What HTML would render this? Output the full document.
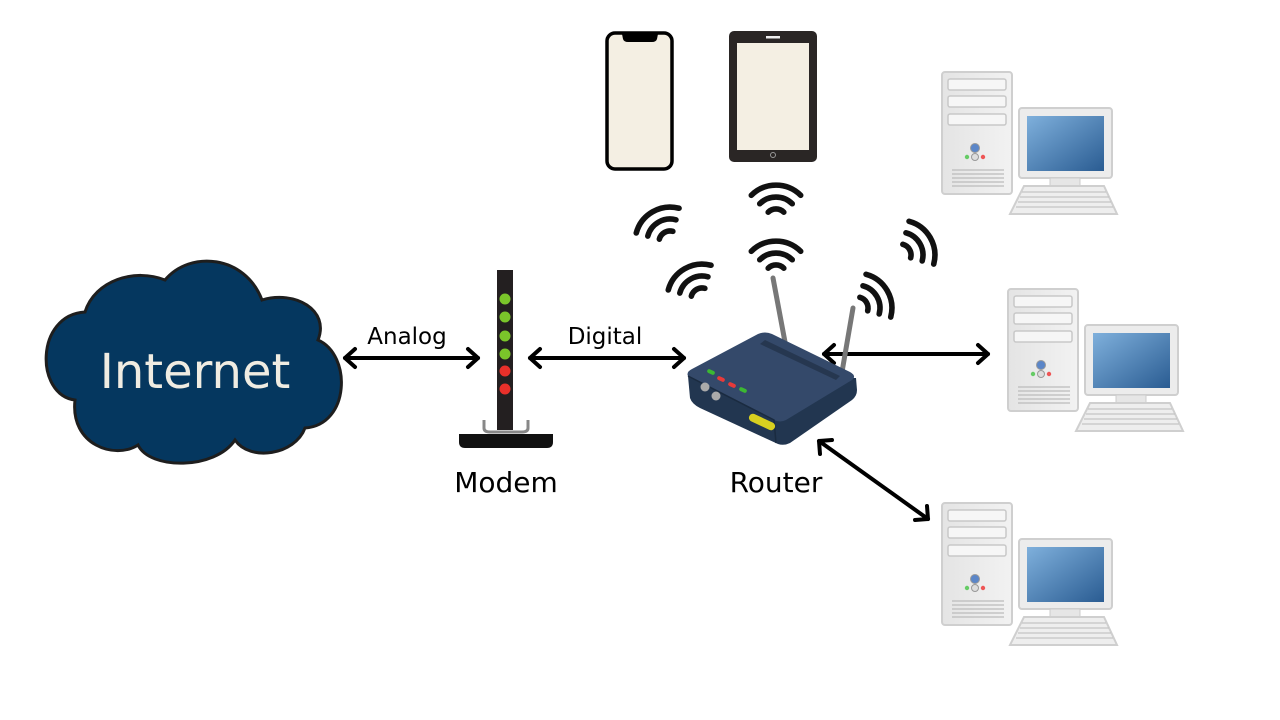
<!DOCTYPE html>
<html><head><meta charset="utf-8"><style>
html,body{margin:0;padding:0;background:#fff;width:1280px;height:720px;overflow:hidden}
text{font-family:"DejaVu Sans","Liberation Sans",sans-serif}
</style></head><body>
<svg width="1280" height="720" viewBox="0 0 1280 720" xmlns="http://www.w3.org/2000/svg">
<defs>
<linearGradient id="scr" x1="0" y1="0" x2="1" y2="1"><stop offset="0" stop-color="#7fb0dc"/><stop offset="1" stop-color="#2a5c92"/></linearGradient>
<linearGradient id="case" x1="0" y1="0" x2="1" y2="0"><stop offset="0" stop-color="#e4e4e4"/><stop offset="1" stop-color="#f2f2f2"/></linearGradient>
<g id="wifi" fill="none" stroke="#111" stroke-width="4.3" stroke-linecap="round">
<path d="M-19,-19 A27,27 0 0 1 19,-19"/>
<path d="M-12.5,-12.5 A17.7,17.7 0 0 1 12.5,-12.5"/>
<path d="M-6,-6 A8.5,8.5 0 0 1 6,-6"/>
</g>
<g id="pc">
<rect x="0" y="0" width="70" height="122" rx="3" fill="url(#case)" stroke="#cfcfcf" stroke-width="2"/>
<rect x="6" y="7" width="58" height="11" rx="2" fill="#f6f6f6" stroke="#c8c8c8" stroke-width="1.5"/>
<rect x="6" y="24" width="58" height="11" rx="2" fill="#f6f6f6" stroke="#c8c8c8" stroke-width="1.5"/>
<rect x="6" y="42" width="58" height="11" rx="2" fill="#f6f6f6" stroke="#c8c8c8" stroke-width="1.5"/>
<circle cx="33" cy="76" r="4.5" fill="#5b86c8" stroke="#999"/>
<circle cx="33" cy="85" r="3.5" fill="#ddd" stroke="#999"/>
<circle cx="25" cy="85" r="2.2" fill="#6c6"/>
<circle cx="41" cy="85" r="2.2" fill="#e55"/>
<g stroke="#bbb" stroke-width="1.2"><line x1="10" y1="98" x2="62" y2="98"/><line x1="10" y1="102" x2="62" y2="102"/><line x1="10" y1="106" x2="62" y2="106"/><line x1="10" y1="110" x2="62" y2="110"/><line x1="10" y1="114" x2="62" y2="114"/></g>
<rect x="77" y="36" width="93" height="70" rx="3" fill="#ececec" stroke="#cfcfcf" stroke-width="2"/>
<rect x="85" y="44" width="77" height="55" fill="url(#scr)"/>
<rect x="108" y="106" width="30" height="8" fill="#e6e6e6" stroke="#ccc"/>
<path d="M82,114 L162,114 L175,142 L68,142 Z" fill="#eeeeee" stroke="#cfcfcf" stroke-width="2"/>
<g stroke="#c4c4c4" stroke-width="1.2"><line x1="80" y1="120" x2="164" y2="120"/><line x1="78" y1="125" x2="167" y2="125"/><line x1="76" y1="130" x2="169" y2="130"/><line x1="74" y1="135" x2="171" y2="135"/></g>
</g>
</defs>

<!-- cloud -->
<path d="M75,400 C35,395 35,315 85,312 C95,280 135,268 165,280 C190,250 245,255 262,300 C295,290 330,310 318,340 C352,355 350,425 305,428 C295,455 250,462 235,440 C215,470 150,470 138,445 C115,460 70,445 75,400 Z" fill="#05375f" stroke="#1e1e1e" stroke-width="3"/>
<text x="195" y="388" font-size="48" fill="#f0ece2" text-anchor="middle">Internet</text>

<!-- arrows -->
<g stroke="#000" stroke-width="4" fill="none" stroke-linecap="round" stroke-linejoin="round">
<line x1="345" y1="358" x2="478" y2="358"/>
<polyline points="355,349 345,358 355,367"/><polyline points="468,349 478,358 468,367"/>
<line x1="530" y1="358" x2="684" y2="358"/>
<polyline points="540,349 530,358 540,367"/><polyline points="674,349 684,358 674,367"/>
<line x1="824" y1="354" x2="988" y2="354"/>
<polyline points="834,345 824,354 834,363"/><polyline points="978,345 988,354 978,363"/>
<line x1="819" y1="441" x2="928" y2="519"/>
<polyline points="820,454 819,441 832,440"/><polyline points="915,520 928,519 927,506"/>
</g>
<text x="407" y="344" font-size="23" text-anchor="middle">Analog</text>
<text x="605" y="344" font-size="23" text-anchor="middle">Digital</text>
<text x="506" y="492" font-size="28" text-anchor="middle">Modem</text>
<text x="776" y="492" font-size="28" text-anchor="middle">Router</text>

<!-- modem -->
<path d="M484,420 L484,428 Q484,432 490,432 L522,432 Q528,432 528,428 L528,420" fill="none" stroke="#888" stroke-width="3"/>
<rect x="497" y="270" width="16" height="160" fill="#231f20"/>
<g fill="#7ac52a"><circle cx="505" cy="299" r="5.5"/><circle cx="505" cy="317" r="5.5"/><circle cx="505" cy="336" r="5.5"/><circle cx="505" cy="354" r="5.5"/></g>
<g fill="#e8302a"><circle cx="505" cy="371" r="5.5"/><circle cx="505" cy="389" r="5.5"/></g>
<path d="M459,434 L553,434 L553,442 Q553,448 547,448 L465,448 Q459,448 459,442 Z" fill="#111"/>

<!-- phone -->
<rect x="607" y="33" width="65" height="136" rx="8" fill="#f4efe3" stroke="#000" stroke-width="3.5"/>
<path d="M622,34 L658,34 L657,39 Q656,42 652,42 L628,42 Q624,42 623,39 Z" fill="#000"/>
<!-- tablet -->
<rect x="729" y="31" width="88" height="131" rx="5" fill="#2a2625"/>
<rect x="737" y="43" width="72" height="107" fill="#f4efe3"/>
<rect x="766" y="36" width="14" height="2.5" fill="#eee"/>
<circle cx="773" cy="155" r="2.5" fill="none" stroke="#999" stroke-width="1"/>

<!-- wifi -->
<use href="#wifi" transform="translate(670,242) rotate(-30) scale(1.3)"/>
<use href="#wifi" transform="translate(702,299) rotate(-30) scale(1.3)"/>
<use href="#wifi" transform="translate(776,220) scale(1.3)"/>
<use href="#wifi" transform="translate(776,276) scale(1.3)"/>
<use href="#wifi" transform="translate(900,255) rotate(60) scale(1.3)"/>
<use href="#wifi" transform="translate(857,308) rotate(60) scale(1.3)"/>

<!-- router -->
<g stroke-linecap="round">
<line x1="773" y1="278" x2="785" y2="342" stroke="#777" stroke-width="5"/>
<line x1="853" y1="308" x2="842" y2="372" stroke="#777" stroke-width="5"/>
</g>
<path d="M688,376 L690,398 Q692,404 700,408 L778,444 Q784,446 790,443 L852,400 Q857,396 857,390 L856,378 Z" fill="#223650"/>
<path d="M688,376 Q686,372 692,369 L758,334 Q765,331 772,334 L850,372 Q857,376 852,380 L786,420 Q780,423 774,420 Z" fill="#34496a"/>
<path d="M688,376 L774,420 L776,443" fill="none" stroke="#1a2b40" stroke-width="1.5"/>
<g fill="#1e2c40"><path d="M765,340 L840,376 L836,380 L760,344 Z" opacity="0.6"/></g>
<rect x="707" y="370" width="8" height="4" rx="2" fill="#3cb832" transform="rotate(25 711 372)"/>
<rect x="717" y="377" width="8" height="4" rx="2" fill="#e83a3a" transform="rotate(25 721 379)"/>
<rect x="728" y="383" width="8" height="4" rx="2" fill="#e83a3a" transform="rotate(25 732 385)"/>
<rect x="739" y="388" width="8" height="4" rx="2" fill="#3cb832" transform="rotate(25 743 390)"/>
<circle cx="705" cy="387" r="4.5" fill="#aaa"/>
<circle cx="716" cy="396" r="4.5" fill="#aaa"/>
<rect x="748" y="418" width="28" height="8" rx="4" fill="#d8d020" transform="rotate(25 762 422)"/>

<!-- PCs -->
<use href="#pc" transform="translate(942,72)"/>
<use href="#pc" transform="translate(1008,289)"/>
<use href="#pc" transform="translate(942,503)"/>
</svg>
</body></html>
